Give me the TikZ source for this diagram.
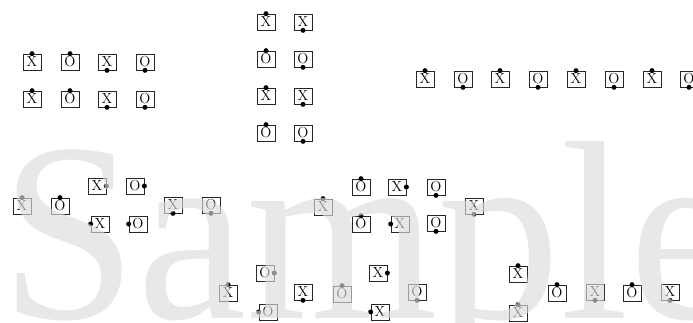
\documentclass[tikz,border=0pt]{standalone}
\usepackage{fontspec}
\usepackage{tikz}
\newfontfamily\wmfont{Liberation Serif}
\definecolor{wmgray}{gray}{0.86}
\tikzset{
  cell/.style={draw=black!85, line width=0.7pt, fill=white, minimum width=18pt,
    minimum height=16pt, inner sep=0pt, font=\fontsize{14.5}{14.5}\selectfont},
}

\begin{document}
\begin{tikzpicture}[x=1pt, y=-1pt]
    \useasboundingbox (0,0) rectangle (693,323);
    % cells: name/x/y/letter/side of the dot
    \foreach \n/\x/\y/\t/\s in {
        a1/32/62/X/north, a2/70/62/O/north, a3/107/62/X/south, a4/145/62/O/south,
        a5/32/99/X/north, a6/70/99/O/north, a7/107/99/X/south, a8/145/99/O/south,
        b1/266/22/X/north, b2/303/22/X/south, b3/266/59/O/north, b4/303/59/O/south,
        b5/266/96/X/north, b6/303/96/X/south, b7/266/133/O/north, b8/303/133/O/south,
        c1/425/79/X/north, c2/463/79/O/south, c3/500/79/X/north, c4/538/79/O/south,
        c5/576/79/X/north, c6/614/79/O/south, c7/652/79/X/north, c8/689/79/O/south,
        d1/22/206/X/north, d2/60/206/O/north, d3/97/186/X/east, d4/135/186/O/east,
        d5/100/224/X/west, d6/138/224/O/west, d7/173/205/X/south, d8/211/205/O/south,
        e1/323/207/X/north, e2/361/187/O/north, e3/397/187/X/east, e4/436/187/O/south,
        e5/361/224/O/north, e6/400/224/X/west, e7/436/223/O/south, e8/474/206/X/south,
        f1/228/293/X/north, f2/265/273/O/east, f3/268/312/O/west, f4/303/292/X/south,
        f5/342/294/O/north, f6/378/273/X/east, f7/380/312/X/west, f8/417/292/O/south,
        g1/518/274/X/north, g2/518/313/X/north, g3/557/293/O/north, g4/595/292/X/south,
        g5/632/293/O/north, g6/670/292/X/south} {
        \node[cell] (\n) at (\x,\y) {\t};
        \fill (\n.\s) circle (2.5pt);
    }
    % watermark
    \begin{scope}[shift={(0,318)}, xscale=0.965]
        \node[transform shape, anchor=base west, inner sep=0pt, text=wmgray,
            opacity=0.65, font=\wmfont\fontsize{255}{255}\selectfont] (mark) at (0,0) {Sample};
    \end{scope}
\end{tikzpicture}
\end{document}
